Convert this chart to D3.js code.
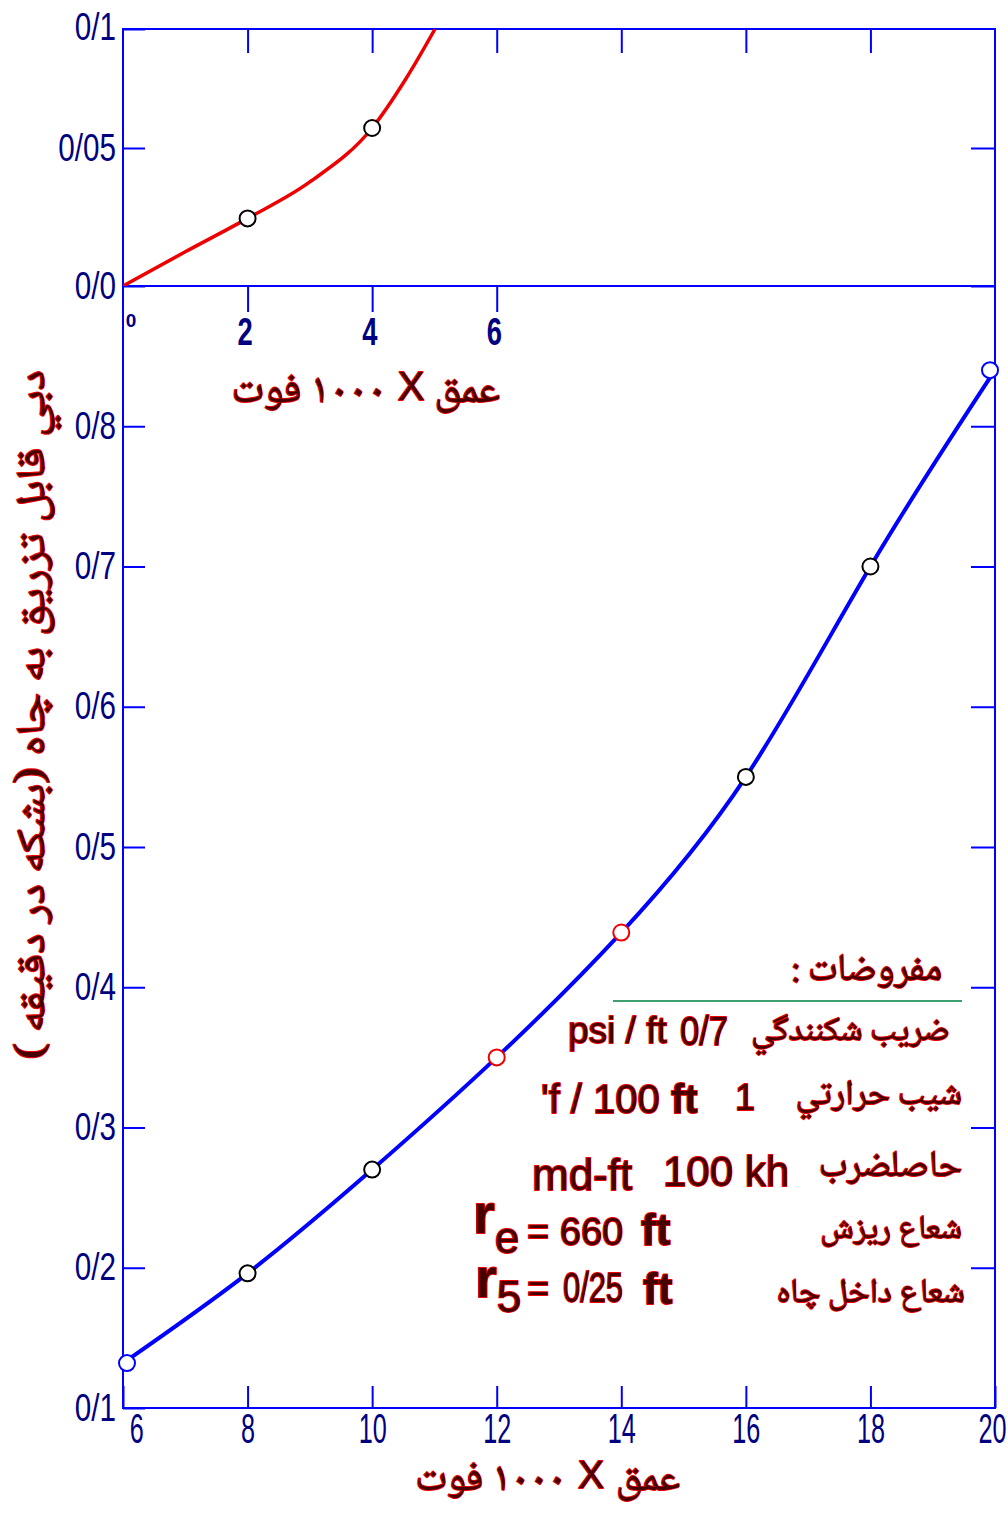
<!DOCTYPE html>
<html>
<head>
<meta charset="utf-8">
<script src="https://cdn.jsdelivr.net/npm/d3@7"></script>
<style>
  body { margin: 0; background: #fff; }
  svg { display: block; }
  .num { font-family: "Liberation Sans", Arial, sans-serif; fill: #000080; }
  .note { fill: #460000; stroke: #f00000; stroke-width: 1.8; paint-order: stroke; stroke-linejoin: round; }
  .ar { font-family: "Noto Naskh Arabic", "Noto Sans Arabic", "DejaVu Sans", sans-serif; }
  .lat { font-family: "Liberation Sans", Arial, sans-serif; }
</style>
</head>
<body>
<svg id="chart" width="1008" height="1516"></svg>
<script>
// Injection rate versus depth, deep wells (main panel)
const mainDepth = [6, 8, 10, 12, 14, 16, 18, 20];
const mainRate = [0.132, 0.196, 0.270, 0.350, 0.439, 0.550, 0.700, 0.840];
const highlightedDepths = [12, 14];
const mainXTicks = [6, 8, 10, 12, 14, 16, 18, 20];
const mainYTicks = [0.1, 0.2, 0.3, 0.4, 0.5, 0.6, 0.7, 0.8];
const mainYTickLabels = ["0/1", "0/2", "0/3", "0/4", "0/5", "0/6", "0/7", "0/8"];

// Shallow wells (inset panel)
const insetDepth = [0, 1, 2, 3, 4, 4.55, 5.01];
const insetRate = [0, 0.0124, 0.0245, 0.0377, 0.0584, 0.0794, 0.1];
const insetMarkedDepths = [2, 4];
const insetXTicks = [2, 4, 6];
const insetTopTicks = [2, 4, 6, 8, 10, 12];
const insetYTicks = [0, 0.05, 0.1];
const insetYTickLabels = ["0/0", "0/05", "0/1"];

// Text
const yAxisTitle = "دبي قابل تزريق به چاه (بشكه در دقيقه )";
const depthWord = "عمق", depthTimes = "X", depthUnit = "۱۰۰۰ فوت";
const notesTitle = "مفروضات :";

const svg = d3.select("#chart");
const blue = "#0000ff", navy = "#000080";

const plotLeft = 123, plotRight = 995, plotTop = 29, plotMid = 286, plotBottom = 1408;

const x = d3.scaleLinear().domain([6, 20]).range([plotLeft, plotRight]);
const y = d3.scaleLinear().domain([0.1, 0.9]).range([plotBottom, plotMid]);
const xi = d3.scaleLinear().domain([0, 14]).range([plotLeft, plotRight]);
const yi = d3.scaleLinear().domain([0, 0.05, 0.1]).range([plotMid, 148, plotTop]);

// frames
const frame = svg.append("g").attr("fill", "none").attr("stroke", blue).attr("stroke-width", 2);
frame.append("rect").attr("x", plotLeft).attr("y", plotTop)
  .attr("width", plotRight - plotLeft).attr("height", plotBottom - plotTop);
frame.append("line").attr("x1", plotLeft).attr("x2", plotRight).attr("y1", plotMid).attr("y2", plotMid);

// condensed numerals: squeeze each label horizontally about its tick
function styleAxis(g, fontSize, squeeze, bold) {
  g.select(".domain").remove();
  g.selectAll(".tick line").attr("stroke", blue).attr("stroke-width", 2);
  g.selectAll(".tick text").attr("class", "num").attr("fill", navy)
    .style("font-size", fontSize + "px")
    .style("font-weight", bold ? "bold" : "normal")
    .attr("transform", `scale(${squeeze},1)`);
}

// main axes
svg.append("g").attr("transform", `translate(${plotLeft},0)`)
  .call(d3.axisLeft(y).tickValues(mainYTicks).tickSize(-22).tickPadding(9)
    .tickFormat((d, i) => mainYTickLabels[i]))
  .call(g => styleAxis(g, 38, 0.78));
svg.append("g").attr("transform", `translate(${plotRight},0)`)
  .call(d3.axisRight(y).tickValues(mainYTicks.slice(1)).tickSize(-24).tickFormat(""))
  .call(g => styleAxis(g, 38, 1));
svg.append("g").attr("transform", `translate(0,${plotBottom})`)
  .call(d3.axisBottom(x).tickValues(mainXTicks).tickSize(-22).tickPadding(5).tickFormat(d3.format("d")))
  .call(g => styleAxis(g, 42, 0.6))
  .call(g => g.selectAll(".tick text").attr("dx", d => d === 6 ? 22 : (d === 20 ? -5 : 0)));

// inset axes
svg.append("g").attr("transform", `translate(${plotLeft},0)`)
  .call(d3.axisLeft(yi).tickValues(insetYTicks).tickSize(-22).tickPadding(9)
    .tickFormat((d, i) => insetYTickLabels[i]))
  .call(g => styleAxis(g, 38, 0.78))
  .call(g => g.selectAll(".tick text").attr("dy", (d, i) => i === 2 ? "0.28em" : "0.32em"));
svg.append("g").attr("transform", `translate(${plotRight},0)`)
  .call(d3.axisRight(yi).tickValues(insetYTicks.slice(0, 2)).tickSize(-24).tickFormat(""))
  .call(g => styleAxis(g, 38, 1));
svg.append("g").attr("transform", `translate(0,${plotTop})`)
  .call(d3.axisTop(xi).tickValues(insetTopTicks).tickSize(-24).tickFormat(""))
  .call(g => styleAxis(g, 38, 1));
svg.append("g").attr("transform", `translate(0,${plotMid})`)
  .call(d3.axisBottom(xi).tickValues(insetXTicks).tickSize(26).tickPadding(6).tickFormat(d3.format("d")))
  .call(g => styleAxis(g, 38, 0.72, true))
  .call(g => g.selectAll(".tick text").attr("dx", -4));
svg.append("text").attr("class", "num").attr("x", xi(0) + 8).attr("y", 327)
  .attr("text-anchor", "middle").style("font-size", "19px").style("font-weight", "bold").text("0");

// inset curve
svg.append("clipPath").attr("id", "insetClip").append("rect")
  .attr("x", plotLeft).attr("y", plotTop).attr("width", plotRight - plotLeft).attr("height", plotMid - plotTop);
const insetPts = insetDepth.map((d, i) => [d, insetRate[i]]);
svg.append("path").datum(insetPts)
  .attr("clip-path", "url(#insetClip)")
  .attr("fill", "none").attr("stroke", "#ee0000").attr("stroke-width", 3.5)
  .attr("d", d3.line().x(d => xi(d[0])).y(d => yi(d[1])).curve(d3.curveMonotoneX));
svg.append("g").selectAll("circle")
  .data(insetPts.filter(d => insetMarkedDepths.includes(d[0])))
  .join("circle")
  .attr("cx", d => xi(d[0])).attr("cy", d => yi(d[1])).attr("r", 8)
  .attr("fill", "#fff").attr("stroke", "#000").attr("stroke-width", 2);

// main curve
const mainPts = mainDepth.map((d, i) => [d, mainRate[i]]);
svg.append("path").datum(mainPts)
  .attr("fill", "none").attr("stroke", blue).attr("stroke-width", 4)
  .attr("d", d3.line().x(d => x(d[0])).y(d => y(d[1])).curve(d3.curveNatural));
svg.append("g").selectAll("circle")
  .data(mainPts)
  .join("circle")
  .attr("cx", d => x(d[0]) + (d[0] === mainDepth[0] ? 4 : d[0] === mainDepth[mainDepth.length - 1] ? -5 : 0))
  .attr("cy", d => y(d[1])).attr("r", 8)
  .attr("fill", "#fff").attr("stroke-width", 2)
  .attr("stroke", (d, i) => (i === 0 || i === mainPts.length - 1) ? blue
    : highlightedDepths.includes(d[0]) ? "#ee0000" : "#000");

// axis titles: "depth X 1000 ft", word / multiplier / unit set side by side (right to left)
function note(cls) { return svg.append("text").attr("class", "note " + cls); }
function depthTitle(cx, cy, fs) {
  note("ar").attr("x", cx + 137).attr("y", cy).attr("text-anchor", "end")
    .style("font-size", fs + "px").text(depthWord);
  note("lat").attr("x", cx + 48).attr("y", cy - 2).attr("text-anchor", "middle")
    .style("font-size", (fs * 0.95) + "px").text(depthTimes);
  note("ar").attr("x", cx + 23).attr("y", cy).attr("direction", "rtl").attr("text-anchor", "start")
    .style("font-size", fs + "px").text(depthUnit);
}
depthTitle(363, 402, 42);
depthTitle(543, 1490, 41);
note("ar").attr("transform", "translate(44,715) rotate(-90)").attr("direction", "rtl")
  .attr("text-anchor", "middle").style("font-size", "40px")
  .attr("textLength", 690).attr("lengthAdjust", "spacingAndGlyphs").text(yAxisTitle);

// assumptions box
note("ar").attr("x", 942).attr("y", 980).attr("direction", "rtl").attr("text-anchor", "start")
  .style("font-size", "38px").text(notesTitle);
svg.append("line").attr("x1", 613).attr("x2", 962).attr("y1", 1001).attr("y2", 1001)
  .attr("stroke", "#3f9f6f").attr("stroke-width", 2);

const rowAr = [
  ["ضريب شكنندگي", 950, 1040, 34],
  ["شيب حرارتي", 962, 1104, 35],
  ["حاصلضرب", 962, 1176, 37],
  ["شعاع ريزش", 962, 1238, 33],
  ["شعاع داخل چاه", 965, 1302, 34]
];
rowAr.forEach(([txt, xx, yy, fs]) => {
  note("ar").attr("x", xx).attr("y", yy).attr("text-anchor", "end").style("font-size", fs + "px").text(txt);
});

note("lat").attr("x", 568).attr("y", 1043).style("font-size", "37px").text("psi / ft");
note("lat").attr("x", 680).attr("y", 1045).style("font-size", "40px")
  .attr("textLength", 48).attr("lengthAdjust", "spacingAndGlyphs").text("0/7");

note("lat").attr("x", 735).attr("y", 1110).style("font-size", "36px").text("1");
let t = note("lat").attr("x", 541).attr("y", 1113).style("font-size", "40px");
t.append("tspan").text("'f / 100 ");
t.append("tspan").style("font-weight", "bold").text("ft");

note("lat").attr("x", 663).attr("y", 1186).style("font-size", "42px").text("100 kh");
note("lat").attr("x", 532).attr("y", 1190).style("font-size", "44px").text("md-ft");

t = note("lat").attr("x", 473).attr("y", 1233).style("font-size", "56px");
t.append("tspan").style("font-weight", "bold").text("r");
t.append("tspan").attr("dy", 20).style("font-size", "44px").text("e");
note("lat").attr("x", 527).attr("y", 1245).style("font-size", "38px").text("= 660");
note("lat").attr("x", 641).attr("y", 1245).style("font-size", "44px").style("font-weight", "bold").text("ft");

t = note("lat").attr("x", 475).attr("y", 1297).style("font-size", "56px");
t.append("tspan").style("font-weight", "bold").text("r");
t.append("tspan").attr("dy", 15).style("font-size", "44px").text("5");
note("lat").attr("x", 527).attr("y", 1302).style("font-size", "38px").text("=");
note("lat").attr("x", 563).attr("y", 1302).style("font-size", "42px")
  .attr("textLength", 60).attr("lengthAdjust", "spacingAndGlyphs").text("0/25");
note("lat").attr("x", 643).attr("y", 1304).style("font-size", "44px").style("font-weight", "bold").text("ft");
</script>
</body>
</html>
